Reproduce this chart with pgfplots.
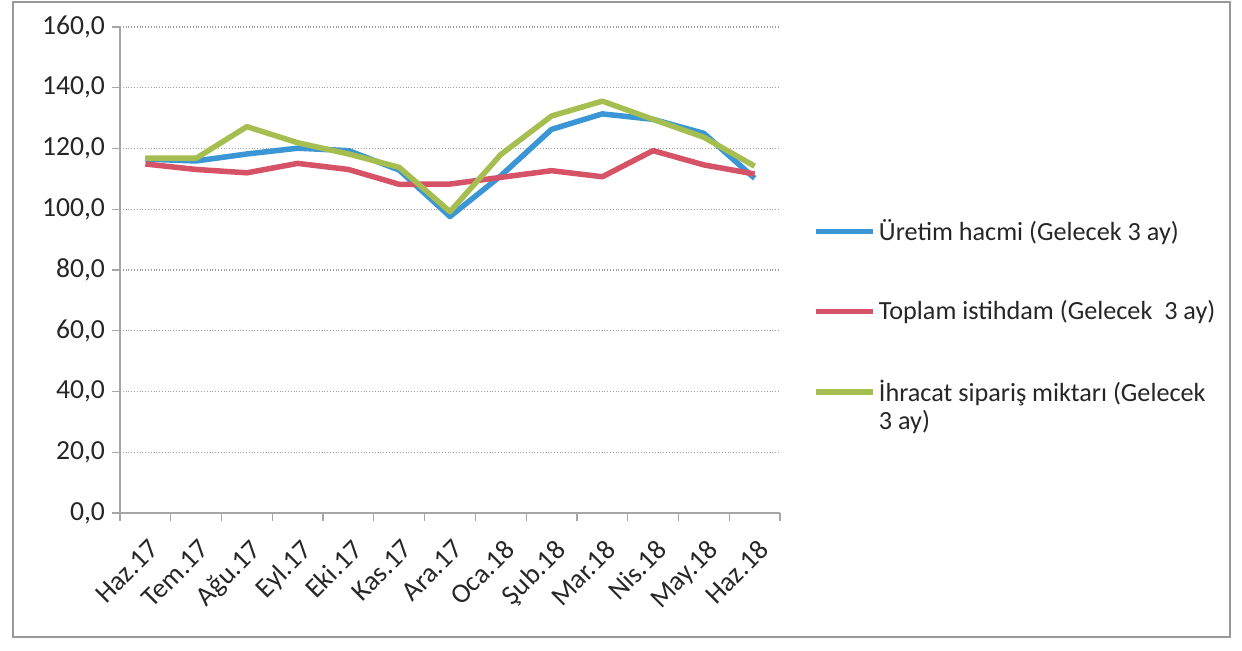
\documentclass[border=0pt]{standalone}
\usepackage{pgfplots}
\pgfplotsset{compat=1.18}
\usepackage{fontspec}
\setmainfont{Carlito}
\definecolor{cblue}{RGB}{58,150,212}
\definecolor{cred}{RGB}{214,82,102}
\definecolor{cgreen}{RGB}{166,190,80}
\begin{document}
\begin{tikzpicture}[x=1pt,y=1pt]
\useasboundingbox (-60,-68.5) rectangle (561,256.5);
\draw[gray!80, line width=0.8pt] (-53.5,-62) rectangle (555,255.5);
\begin{axis}[
  at={(0pt,0pt)}, anchor=south west,
  scale only axis, width=330pt, height=243pt,
  xmin=-0.5, xmax=12.5, ymin=0, ymax=160,
  axis x line*=bottom, axis y line*=left,
  axis line style={gray!70, line width=0.7pt},
  tick align=outside, major tick length=4pt,
  tick style={gray!70, line width=0.6pt},
  ytick={0,20,...,160},
  ymajorgrids, grid style={gray!75, densely dotted, line width=0.7pt},
  tick label style={font=\fontsize{13.8}{16}\selectfont, text=black!85},
  yticklabel style={/pgf/number format/fixed, /pgf/number format/fixed zerofill, /pgf/number format/precision=1, /pgf/number format/use comma, /pgf/number format/assume math mode=true},
  xtick={-0.5,0.5,...,12.5}, xticklabels={},
  extra x ticks={0,1,...,12},
  extra x tick labels={Haz.17,Tem.17,Ağu.17,Eyl.17,Eki.17,Kas.17,Ara.17,Oca.18,Şub.18,Mar.18,Nis.18,May.18,Haz.18},
  extra x tick style={major tick length=0pt, xticklabel style={yshift=-11pt, xshift=1pt, rotate=45, anchor=north east, inner sep=1pt}},
  legend style={at={(1.041,0.621)}, anchor=north west, draw=none, fill=none,
    font=\fontsize{13.1}{15}\selectfont, text=black!85, row sep=24.5pt,
    nodes={inner xsep=1.5pt}},
  legend cell align=left,
  legend image code/.code={\draw[#1] (0pt,0pt) -- (28.5pt,0pt);},
  every axis plot/.append style={line width=2.75pt, line join=round},
]
\addplot[cblue] coordinates {(0,116.5)(1,115.9)(2,118.2)(3,120.1)(4,119.3)(5,112.9)(6,97.6)(7,111)(8,126.3)(9,131.4)(10,129.6)(11,125)(12,110.2)};
\addlegendentry{Üretim hacmi (Gelecek 3 ay)}
\addplot[cred] coordinates {(0,114.9)(1,113.1)(2,112.0)(3,115.1)(4,113.1)(5,108.2)(6,108.3)(7,110.5)(8,112.7)(9,110.7)(10,119.3)(11,114.6)(12,111.6)};
\addlegendentry{Toplam istihdam (Gelecek\ \ 3 ay)}
\addplot[cgreen] coordinates {(0,116.8)(1,116.8)(2,127.2)(3,121.9)(4,118.2)(5,113.8)(6,99.2)(7,118)(8,130.7)(9,135.6)(10,129.6)(11,123.7)(12,114.2)};
\addlegendentry{\vtop{\baselineskip=14pt\hbox{İhracat sipariş miktarı (Gelecek}\hbox{3 ay)}}}
\end{axis}
\end{tikzpicture}
\end{document}
